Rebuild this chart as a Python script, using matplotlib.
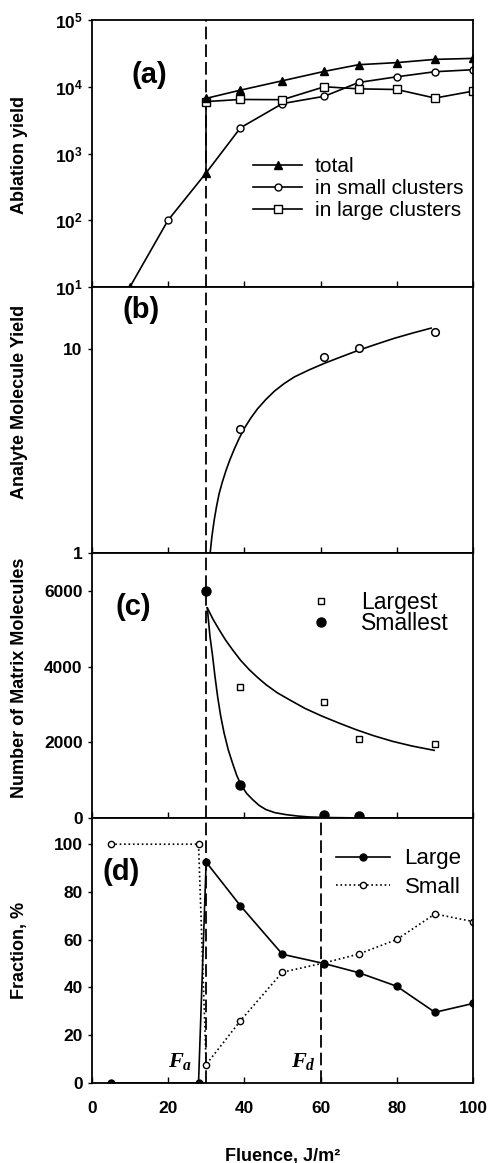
import matplotlib.pyplot as plt
from matplotlib.lines import Line2D

plt.rcParams['font.family'] = ['Liberation Sans', 'DejaVu Sans']
plt.rcParams['mathtext.fontset'] = 'custom'
plt.rcParams['mathtext.rm'] = 'Liberation Sans:bold'
plt.rcParams['mathtext.bf'] = 'Liberation Sans:bold'
plt.rcParams['mathtext.it'] = 'Liberation Serif:bold:italic'

# (a) ablation yield
fluence_low = [10, 20, 30]
yield_low = [10, 100, 513]
fluence_a = [30, 39, 50, 61, 70, 80, 90, 100]
total_a = [6700, 8900, 12300, 17000, 21400, 23000, 25700, 26600]
small_a = [513, 2430, 5600, 7200, 11600, 14100, 16800, 18000]
large_a = [6000, 6450, 6400, 10000, 9300, 9100, 6770, 8600]
a_ticks = [1e1, 1e2, 1e3, 1e4, 1e5]
a_ticklabels = [r'$\mathbf{10^{1}}$', r'$\mathbf{10^{2}}$', r'$\mathbf{10^{3}}$',
                r'$\mathbf{10^{4}}$', r'$\mathbf{10^{5}}$']

# (b) analyte molecule yield + fitted curve
fluence_b = [39, 61, 70, 90]
analyte_b = [4.03, 9.12, 10.1, 12.1]
fit_b_x = [31.05, 31.5, 32.1, 32.7, 33.4, 34.2, 35.2, 36.2, 37.4, 38.7, 40.0, 41.7,
           43.5, 45.6, 47.9, 50.4, 53.1, 56.9, 61.0, 65.2, 69.7, 74.4, 79.3, 84.0, 89.0]
fit_b_y = [1.0, 1.20, 1.445, 1.68, 1.95, 2.21, 2.53, 2.85, 3.23, 3.65, 4.07, 4.57,
           5.08, 5.62, 6.19, 6.73, 7.26, 7.85, 8.47, 9.08, 9.77, 10.47, 11.22, 11.89, 12.59]

# (c) number of matrix molecules in largest / smallest clusters
fluence_c_large = [39, 61, 70, 90]
largest_c = [3470, 3055, 2095, 1955]
fluence_c_small = [30, 39, 61, 70]
smallest_c = [5990, 860, 87, 44]
fit_large_x = [30.3, 31.8, 33.4, 35.1, 36.9, 39.0, 41.3, 43.5, 45.7, 48.6, 51.8,
               56.0, 60.5, 65.0, 69.3, 74.0, 78.9, 84.0, 89.8]
fit_large_y = [5550, 5250, 4975, 4700, 4446, 4170, 3918, 3710, 3522, 3310, 3125,
               2890, 2685, 2500, 2333, 2170, 2024, 1900, 1786]
fit_small_x = [30.3, 31.0, 31.7, 32.3, 33.0, 33.8, 34.7, 35.8, 36.9, 38.0, 39.1,
               40.6, 42.2, 43.9, 45.7, 48.0, 50.9, 54.0, 57.0, 62.0, 70.2]
fit_small_y = [5550, 4800, 4270, 3750, 3213, 2700, 2246, 1800, 1453, 1130, 880,
               650, 484, 330, 220, 140, 88, 50, 26, 10, 0]

# (d) fraction in large / small clusters
fluence_d = [5, 28, 30, 39, 50, 61, 70, 80, 90, 100]
large_d = [0, 0, 92.5, 74.2, 53.9, 50.0, 46.2, 40.5, 29.6, 33.3]
small_d = [100, 100, 7.7, 26.1, 46.4, 50.3, 54.0, 60.1, 70.8, 67.6]

F_a = 30
F_d = 60

lw = 1.2
dash = (0, (7, 2.8))
tick_fs = 12.5
label_fs = 13

fig = plt.figure(figsize=(4.92, 11.63), dpi=100)
left, width = 0.1865, 0.775
ax_a = fig.add_axes([left, 0.7532, width, 0.2296])
ax_b = fig.add_axes([left, 0.5245, width, 0.2287])
ax_c = fig.add_axes([left, 0.2967, width, 0.2278])
ax_d = fig.add_axes([left, 0.0688, width, 0.2279])

for ax in (ax_a, ax_b, ax_c, ax_d):
    ax.set_xlim(0, 100)
    ax.set_xticks([0, 20, 40, 60, 80, 100])
    ax.tick_params(axis='x', direction='in', length=4, width=1)
    ax.tick_params(axis='y', direction='out', length=3, width=1)
    for sp in ax.spines.values():
        sp.set_linewidth(1.3)
    ax.axvline(F_a, color='k', lw=1.3, linestyle=dash, zorder=1)

# ---- (a)
ax_a.set_yscale('log')
ax_a.set_ylim(10, 1e5)
ax_a.plot(fluence_low, yield_low, 'k-', lw=lw)
ax_a.plot(fluence_low[0::2], yield_low[0::2], 'k^', ms=5.5)
ax_a.plot(fluence_low[1:2], yield_low[1:2], 'ko', mfc='white', ms=5)
ax_a.plot([fluence_a[0], fluence_a[0]], [small_a[0], total_a[0]], 'k-', lw=lw)
ax_a.plot(fluence_a, small_a, 'k-', lw=lw, marker='o', mfc='white', ms=5,
          markevery=slice(1, None))
ax_a.plot(fluence_a, large_a, 'k-', lw=lw, marker='s', mfc='white', ms=5.5)
ax_a.plot(fluence_a, total_a, 'k-', lw=lw, marker='^', ms=5.5)
ax_a.set_yticks(a_ticks)
ax_a.set_yticklabels(a_ticklabels, fontsize=tick_fs)
ax_a.yaxis.set_minor_locator(plt.NullLocator())
ax_a.set_ylabel('Ablation yield', fontsize=label_fs, fontweight='bold')
ax_a.text(0.152, 0.794, '(a)', transform=ax_a.transAxes, fontsize=21,
          fontweight='bold', ha='center', va='center')
handles_a = [
    Line2D([], [], color='k', lw=lw, marker='^', ms=5.5, label='total'),
    Line2D([], [], color='k', lw=lw, marker='o', mfc='white', ms=5, label='in small clusters'),
    Line2D([], [], color='k', lw=lw, marker='s', mfc='white', ms=5.5, label='in large clusters'),
]
ax_a.legend(handles=handles_a, loc='upper left', bbox_to_anchor=(0.423, 0.487),
            frameon=False, fontsize=15, handlelength=2.36, handletextpad=0.6,
            labelspacing=0.15, borderpad=0, borderaxespad=0)

# ---- (b)
ax_b.set_yscale('log')
ax_b.set_ylim(1, 20)
ax_b.plot(fit_b_x, fit_b_y, 'k-', lw=lw)
ax_b.plot(fluence_b, analyte_b, 'ko', mfc='white', ms=5.5, mew=1.1, linestyle='none')
ax_b.set_yticks([1, 10])
ax_b.set_yticklabels(['1', '10'], fontsize=tick_fs, fontweight='bold')
ax_b.yaxis.set_minor_locator(plt.NullLocator())
ax_b.set_ylabel('Analyte Molecule Yield', fontsize=label_fs, fontweight='bold')
ax_b.text(0.129, 0.914, '(b)', transform=ax_b.transAxes, fontsize=21,
          fontweight='bold', ha='center', va='center')

# ---- (c)
ax_c.set_ylim(0, 7000)
ax_c.plot(fit_large_x, fit_large_y, 'k-', lw=lw)
ax_c.plot(fit_small_x, fit_small_y, 'k-', lw=lw)
ax_c.plot(fluence_c_large, largest_c, 'ks', mfc='white', ms=5, mew=1.0, linestyle='none')
ax_c.plot(fluence_c_small, smallest_c, 'ko', ms=6.5, linestyle='none')
ax_c.set_yticks([0, 2000, 4000, 6000])
ax_c.set_yticklabels(['0', '2000', '4000', '6000'], fontsize=tick_fs, fontweight='bold')
ax_c.set_ylabel('Number of Matrix Molecules', fontsize=label_fs, fontweight='bold')
ax_c.text(0.11, 0.797, '(c)', transform=ax_c.transAxes, fontsize=21,
          fontweight='bold', ha='center', va='center')
handles_c = [
    Line2D([], [], color='k', linestyle='none', marker='s', mfc='white', ms=5, label='Largest'),
    Line2D([], [], color='k', linestyle='none', marker='o', ms=6.5, label='Smallest'),
]
ax_c.legend(handles=handles_c, loc='upper left', bbox_to_anchor=(0.54, 0.857),
            frameon=False, fontsize=16.5, handlelength=2.0, handletextpad=0.77,
            labelspacing=-0.1, borderpad=0, borderaxespad=0, numpoints=1)

# ---- (d)
ax_d.set_ylim(0, 111)
ax_d.axvline(F_d, color='k', lw=1.3, linestyle=dash, zorder=1)
ax_d.plot(fluence_d, small_d, 'k:', lw=1.2, marker='o', mfc='white', ms=4.5)
ax_d.plot(fluence_d, large_d, 'k-', lw=lw, marker='o', ms=5)
ax_d.set_yticks([0, 20, 40, 60, 80, 100])
ax_d.set_yticklabels(['0', '20', '40', '60', '80', '100'], fontsize=tick_fs, fontweight='bold')
ax_d.set_xticklabels(['0', '20', '40', '60', '80', '100'], fontsize=tick_fs, fontweight='bold')
ax_d.tick_params(axis='x', pad=13)
ax_d.set_ylabel('Fraction, %', fontsize=label_fs, fontweight='bold')
ax_d.set_xlabel('Fluence, J/m²', fontsize=label_fs, fontweight='bold', labelpad=23)
ax_d.text(0.078, 0.797, '(d)', transform=ax_d.transAxes, fontsize=21,
          fontweight='bold', ha='center', va='center')
ax_d.text(20, 6.7, r'$F_a$', fontsize=16)
ax_d.text(52.3, 6.7, r'$F_d$', fontsize=16)
handles_d = [
    Line2D([], [], color='k', lw=lw, marker='o', ms=5, label='Large'),
    Line2D([], [], color='k', lw=1.2, linestyle=':', marker='o', mfc='white', ms=4.5, label='Small'),
]
ax_d.legend(handles=handles_d, loc='upper left', bbox_to_anchor=(0.641, 0.885),
            frameon=False, fontsize=16, handlelength=2.4, handletextpad=0.68,
            labelspacing=0.35, borderpad=0, borderaxespad=0)

for ax in (ax_a, ax_b, ax_c):
    ax.tick_params(axis='x', labelbottom=False)

for ax, ypos in ((ax_a, 0.494), (ax_b, 0.568), (ax_c, 0.53), (ax_d, 0.5)):
    ax.yaxis.set_label_coords(-0.168, ypos)

fig.savefig('out.png', dpi=100)
